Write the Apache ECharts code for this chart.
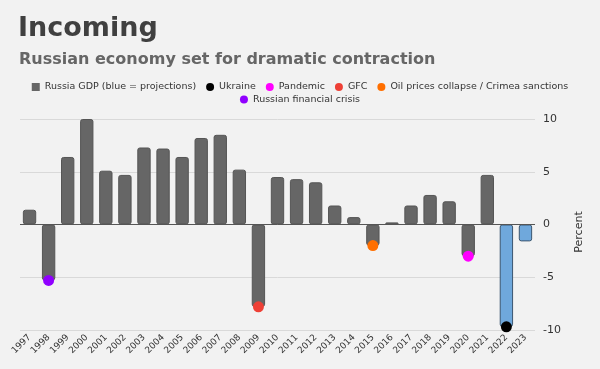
<!DOCTYPE html>
<html><head><meta charset="utf-8">
<script src="https://cdn.jsdelivr.net/npm/echarts@6/dist/echarts.min.js"></script>
<style>html,body{margin:0;padding:0;background:#f2f2f2}#c{width:600px;height:369px}</style>
</head><body><div id="c"></div>
<script>
const years = ['1997','1998','1999','2000','2001','2002','2003','2004','2005','2006','2007','2008','2009','2010','2011','2012','2013','2014','2015','2016','2017','2018','2019','2020','2021','2022','2023'];
const gdp = [1.4,-5.3,6.4,10.0,5.1,4.7,7.3,7.2,6.4,8.2,8.5,5.2,-7.8,4.5,4.3,4.0,1.8,0.7,-2.0,0.2,1.8,2.8,2.2,-3.0,4.7,-9.7,-1.6];
const projectionYears = ['2022','2023'];
const gdpName = 'Russia GDP (blue = projections)';
const eventNames = ['Ukraine','Pandemic','GFC','Oil prices collapse / Crimea sanctions','Russian financial crisis'];
const eventYears = ['2022','2020','2009','2015','1998'];
const eventColors = ['#000000','#ff00ff','#ee4036','#ff6f00','#9000ff'];
const yTicks = [-10,-5,0,5,10];

const FONT = '"DejaVu Sans", Verdana, sans-serif';
const chart = echarts.init(document.getElementById('c'), null, {renderer:'canvas'});

const barData = years.map((y,i) => {
  const proj = projectionYears.includes(y);
  return {
    value: gdp[i],
    itemStyle: proj ? {color:'#6fa8dc', borderColor:'#3b5670'} : {color:'#666666', borderColor:'#555555'}
  };
});

const eventSeries = eventNames.map((n,i) => ({
  name: n,
  type: 'scatter',
  symbol: 'circle',
  symbolSize: 11,
  z: 5,
  itemStyle: {color: eventColors[i], opacity: 1},
  data: [[eventYears[i], gdp[years.indexOf(eventYears[i])]]]
}));

chart.setOption({
  backgroundColor: '#f2f2f2',
  animation: false,
  textStyle: {fontFamily: FONT},
  title: [
    {text: 'Incoming', left: 13, top: 10, textStyle: {fontFamily: FONT, fontSize: 27, fontWeight: 'bold', color: '#404040'}},
    {text: 'Russian economy set for dramatic contraction', left: 14, top: 47, textStyle: {fontFamily: FONT, fontSize: 16, fontWeight: 'bold', color: '#666666'}}
  ],
  legend: [
    {data: [{name: gdpName, icon: 'rect'}].concat(eventNames.slice(0,4).map(n => ({name: n, icon: 'circle'}))),
     left: 'center', top: 77, itemWidth: 8, itemHeight: 8, itemGap: 10,
     textStyle: {fontFamily: FONT, fontSize: 9.5, color: '#333'}},
    {data: [{name: eventNames[4], icon: 'circle'}],
     left: 'center', top: 89.5, itemWidth: 8, itemHeight: 8, itemGap: 10,
     textStyle: {fontFamily: FONT, fontSize: 9.5, color: '#333'}}
  ],
  grid: {left: 20, right: 65, top: 119, bottom: 39},
  xAxis: {
    type: 'category', data: years, boundaryGap: true,
    axisLine: {show: false}, axisTick: {show: false},
    axisLabel: {interval: 0, rotate: 45, fontSize: 9, color: '#333', margin: 6, fontFamily: FONT}
  },
  yAxis: {
    type: 'value', position: 'right', min: yTicks[0], max: yTicks[yTicks.length-1], interval: 5,
    axisLine: {show: false}, axisTick: {show: false},
    axisLabel: {fontSize: 11, color: '#333', margin: 8, fontFamily: FONT},
    splitLine: {lineStyle: {color: '#d9d9d9', width: 1}}
  },
  graphic: [{
    type: 'text', x: 579, y: 232, rotation: Math.PI/2,
    style: {text: 'Percent', fontSize: 11, fontFamily: FONT, fill: '#333', align: 'center', verticalAlign: 'middle'}
  }],
  series: [
    {
      name: gdpName, type: 'bar', barWidth: '70%',
      itemStyle: {color: '#666666', borderWidth: 1, borderRadius: 2},
      data: barData,
      markLine: {silent: true, symbol: 'none', label: {show: false},
        lineStyle: {color: '#555', width: 1, type: 'solid'}, data: [{yAxis: 0}]}
    }
  ].concat(eventSeries)
});
</script></body></html>
